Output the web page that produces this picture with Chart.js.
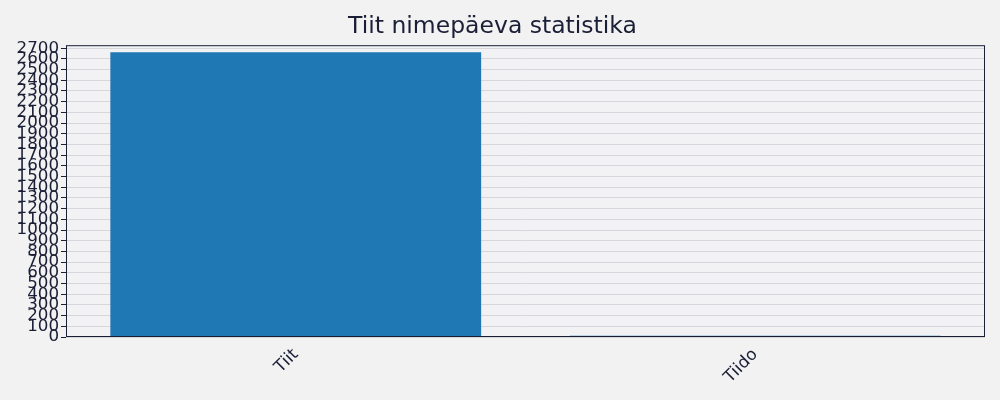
<!DOCTYPE html>
<html>
<head>
<meta charset="utf-8">
<script src="https://cdn.jsdelivr.net/npm/chart.js@4"></script>
<style>
  html, body { margin: 0; padding: 0; background: #f2f2f2; }
  #wrap { width: 1000px; height: 400px; }
</style>
</head>
<body>
<div id="wrap"><canvas id="chart" width="1000" height="400"></canvas></div>
<script>
const names = ["Tiit", "Tiido"];
const counts = [2662, 12];
const yMax = 2728;
const yStep = 100;
const yTopTick = 2700;

const plotBackground = {
  id: "plotBackground",
  beforeDraw(chart) {
    const { ctx, chartArea } = chart;
    ctx.save();
    ctx.fillStyle = "#f2f2f4";
    ctx.fillRect(chartArea.left, chartArea.top, chartArea.right - chartArea.left, chartArea.bottom - chartArea.top);
    ctx.restore();
  },
  afterDraw(chart) {
    const { ctx, chartArea } = chart;
    ctx.save();
    ctx.strokeStyle = "#1a1f36";
    ctx.lineWidth = 1;
    ctx.strokeRect(chartArea.left + 0.5, chartArea.top + 0.5, chartArea.right - chartArea.left - 1, chartArea.bottom - chartArea.top - 1);
    ctx.restore();
  },
};

Chart.defaults.font.family = "'DejaVu Sans', sans-serif";
Chart.defaults.color = "#1a1f36";

new Chart(document.getElementById("chart"), {
  type: "bar",
  data: {
    labels: names,
    datasets: [
      {
        data: counts,
        backgroundColor: "#1f77b4",
        borderWidth: 0,
        categoryPercentage: 1,
        barPercentage: 0.807,
      },
    ],
  },
  options: {
    responsive: false,
    animation: false,
    layout: { padding: { left: 0, right: 15, top: 0, bottom: 0 } },
    plugins: {
      legend: { display: false },
      tooltip: { enabled: false },
      title: {
        display: true,
        text: "Tiit nimepäeva statistika",
        font: { size: 23.5, weight: "normal" },
        color: "#1a1f36",
        padding: { top: 13, bottom: 4 },
      },
    },
    scales: {
      x: {
        offset: true,
        afterFit(scale) {
          scale.height = 63;
        },
        grid: { display: false, drawTicks: true, tickLength: 5, tickColor: "#1a1f36" },
        border: { display: false },
        ticks: { font: { size: 16.7 }, maxRotation: 45, minRotation: 45, padding: 3, color: "#1a1f36" },
      },
      y: {
        min: 0,
        max: yMax,
        afterFit(scale) {
          scale.width = 66;
        },
        afterBuildTicks(scale) {
          const ticks = [];
          for (let v = 0; v <= yTopTick; v += yStep) {
            ticks.push({ value: v });
          }
          scale.ticks = ticks;
        },
        ticks: {
          autoSkip: false,
          font: { size: 16.7 },
          padding: 2,
          color: "#1a1f36",
          callback: (value) => String(value),
        },
        grid: { color: "#d6d6db", tickColor: "#1a1f36", tickLength: 5, lineWidth: 1 },
        border: { display: false },
      },
    },
  },
  plugins: [plotBackground],
});
</script>
</body>
</html>
